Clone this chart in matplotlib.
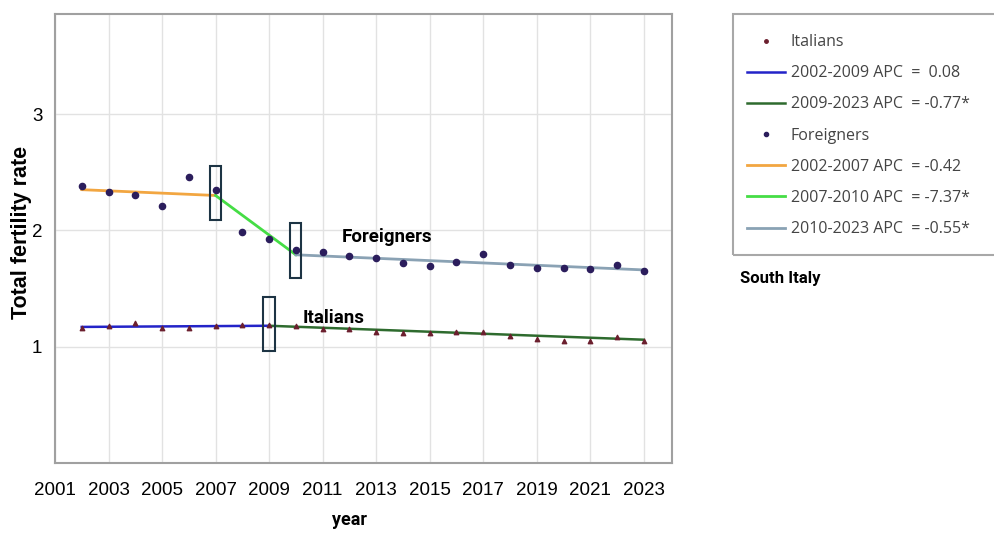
import matplotlib.pyplot as plt
from matplotlib.lines import Line2D
from matplotlib.patches import Rectangle

# Total fertility rate, South Italy
years = list(range(2002, 2024))
italians = [1.16, 1.18, 1.20, 1.16, 1.16, 1.18, 1.19, 1.19, 1.18, 1.15, 1.15,
            1.13, 1.12, 1.12, 1.13, 1.13, 1.09, 1.07, 1.05, 1.05, 1.08, 1.05]
foreigners = [2.38, 2.33, 2.30, 2.21, 2.46, 2.35, 1.99, 1.93, 1.83, 1.81, 1.78,
              1.76, 1.72, 1.69, 1.73, 1.80, 1.70, 1.68, 1.68, 1.67, 1.70, 1.65]

# Joinpoint segments: (start year, end year, start value, end value, label, colour)
ita_segments = [
    (2002, 2009, 1.17, 1.18, "2002-2009 APC  =  0.08", "#2323c8"),
    (2009, 2023, 1.18, 1.06, "2009-2023 APC  = -0.77*", "#2e6b2e"),
]
for_segments = [
    (2002, 2007, 2.35, 2.30, "2002-2007 APC  = -0.42", "#f2a641"),
    (2007, 2010, 2.30, 1.79, "2007-2010 APC  = -7.37*", "#45dd45"),
    (2010, 2023, 1.79, 1.66, "2010-2023 APC  = -0.55*", "#8aa2b4"),
]

# Highlighted joinpoints: (year, low, high)
joinpoints = [(2007, 2.09, 2.55), (2010, 1.59, 2.06), (2009, 0.96, 1.43)]

fig = plt.figure(figsize=(9.94, 5.33), dpi=100)
ax = fig.add_axes([0.0553, 0.1313, 0.6207, 0.8424])

ita_col = "#6b1f2e"
for_col = "#2b1d5c"

for x0, x1, y0, y1, lab, c in for_segments:
    ax.plot([x0, x1], [y0, y1], color=c, lw=2, zorder=2)
for x0, x1, y0, y1, lab, c in ita_segments:
    ax.plot([x0, x1], [y0, y1], color=c, lw=1.8, zorder=2)

ax.scatter(years, foreigners, s=20, color=for_col, zorder=3)
ax.scatter(years, italians, s=10, color=ita_col, marker="^", zorder=3)

for yr, lo, hi in joinpoints:
    ax.add_patch(Rectangle((yr - 0.21, lo), 0.42, hi - lo, fill=False,
                           edgecolor="#1d3444", lw=1.5, zorder=4))

ax.text(2011.7, 1.94, "Foreigners", fontsize=13.5, fontweight="bold",
        family="Roboto", va="center")
ax.text(2010.25, 1.25, "Italians", fontsize=13.5, fontweight="bold",
        family="Roboto", va="center")

ax.set_xlim(2001, 2024.05)
ax.set_ylim(0, 3.86)
ax.set_xticks(range(2001, 2024, 2))
ax.set_yticks([1, 2, 3])
ax.tick_params(length=0, labelsize=13.5)
ax.tick_params(axis="x", pad=14)
ax.tick_params(axis="y", pad=9)
for lbl in ax.get_xticklabels() + ax.get_yticklabels():
    lbl.set_family("Liberation Sans")
ax.grid(True, color="#e2e2e2", lw=1)
ax.set_axisbelow(True)
for sp in ax.spines.values():
    sp.set_color("#a0a0a0")
    sp.set_linewidth(1.5)

fig.text(349 / 994, 1 - 520 / 533, "year", fontsize=13, fontweight="bold",
         family="Roboto", ha="center", va="center")
fig.text(0.022, 1 - 232 / 533, "Total fertility rate", rotation=90, fontsize=15.5,
         fontweight="bold", family="Liberation Sans", ha="center", va="center")

# Legend
handles = [Line2D([], [], ls="", marker="o", ms=2.5, color=ita_col)]
labels = ["Italians"]
for seg in ita_segments:
    handles.append(Line2D([], [], color=seg[5], lw=1.8))
    labels.append(seg[4])
handles.append(Line2D([], [], ls="", marker="o", ms=3, color=for_col))
labels.append("Foreigners")
for seg in for_segments:
    handles.append(Line2D([], [], color=seg[5], lw=2))
    labels.append(seg[4])

leg = fig.legend(handles, labels, loc="upper left",
                 bbox_to_anchor=(0.737, 0.963), frameon=False,
                 prop={"family": "Open Sans", "size": 11.5},
                 handlelength=2.4, labelspacing=0.95, handletextpad=0.35)
for t in leg.get_texts():
    t.set_color("#444444")

fig.patches.append(Rectangle((733 / 994, 1 - 255 / 533), 0.3, 241 / 533,
                             transform=fig.transFigure, fill=False,
                             edgecolor="#a8a8a8", lw=1.5))
fig.text(740 / 994, 1 - 278 / 533, "South Italy", fontsize=12,
         fontweight="bold", family="Roboto", va="center")

fig.savefig("out.png", dpi=100)
